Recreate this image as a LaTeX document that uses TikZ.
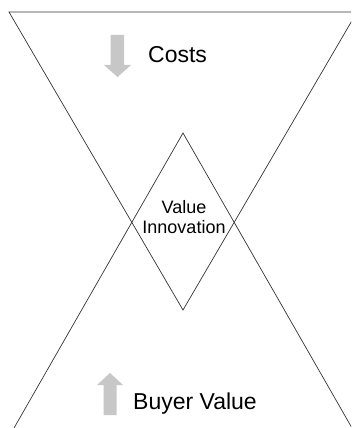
\documentclass[tikz,border=0pt]{standalone}
\usepackage{fontspec}
\setmainfont{Liberation Sans}
\begin{document}
\begin{tikzpicture}[x=1pt,y=-1pt,
  edge/.style={draw=black!80,line width=0.7pt},
  grayarrow/.style={fill=black!22,draw=none},
  bigtext/.style={inner sep=0pt,anchor=base west,font=\fontsize{23}{27}\selectfont},
  midtext/.style={inner sep=0pt,anchor=base,font=\fontsize{18}{20}\selectfont}]
\useasboundingbox (0,0) rectangle (351,428);
\clip (0,0) rectangle (351,428);
% top triangle
\coordinate (tl) at (9,12);
\coordinate (tr) at (357,12);
\coordinate (tb) at (183,310);
% bottom triangle
\coordinate (bt) at (183,133);
\coordinate (bl) at (10,435);
\coordinate (br) at (356,435);
\draw[edge] (tl) -- (tr) -- (tb) -- cycle;
\draw[edge] (bl) -- (bt) -- (br);
% cost arrow (down)
\fill[grayarrow] (110.5,35) -- (124,35) -- (124,65) -- (131,65) -- (117.5,77) -- (104,65) -- (110.5,65) -- cycle;
% buyer value arrow (up)
\fill[grayarrow] (103.5,415) -- (116.5,415) -- (116.5,385) -- (123,385) -- (110,373) -- (97,385) -- (103.5,385) -- cycle;
\node[bigtext] (costs) at (148,63) {Costs};
\node[bigtext] (buyer) at (133,409) {Buyer Value};
\node[midtext] (v1) at (184,213) {Value};
\node[midtext] (v2) at (184,233) {Innovation};
\end{tikzpicture}
\end{document}
